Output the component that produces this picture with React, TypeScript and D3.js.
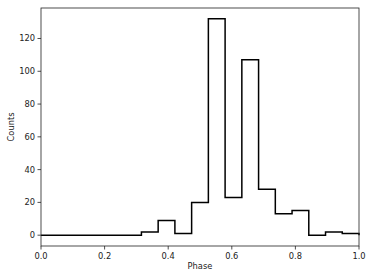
import React from "react";
import * as d3 from "d3";

const binCount = 19;
const counts = [0, 0, 0, 0, 0, 0, 2, 9, 1, 20, 132, 23, 107, 28, 13, 15, 0, 2, 1];
const xTicks = [0, 0.2, 0.4, 0.6, 0.8, 1.0];
const yTicks = [0, 20, 40, 60, 80, 100, 120];

const W = 374, H = 280;
const M = { left: 41, right: 359, top: 8, bottom: 246 };

export default function App() {
  const x = d3.scaleLinear().domain([0, 1]).range([M.left, M.right]);
  const y = d3.scaleLinear().domain([-6.6, 138.6]).range([M.bottom, M.top]);
  const edges = d3.range(binCount + 1).map((i) => i / binCount);
  const pts: [number, number][] = [];
  pts.push([x(0), y(0)]);
  counts.forEach((c, i) => {
    pts.push([x(edges[i]), y(c)]);
    pts.push([x(edges[i + 1]), y(c)]);
  });
  pts.push([x(1), y(0)]);
  const line = d3.line();
  const font = "DejaVu Sans, sans-serif";
  return (
    <svg width={W} height={H} style={{ position: "absolute", left: 0, top: 0 }}>
      <rect width={W} height={H} fill="white" />
      <path d={line(pts) || ""} fill="none" stroke="black" strokeWidth={1.5} strokeLinejoin="miter" />
      <rect x={M.left} y={M.top} width={M.right - M.left} height={M.bottom - M.top} fill="none" stroke="#222" strokeWidth={0.8} />
      {xTicks.map((t) => (
        <g key={"x" + t}>
          <line x1={x(t)} x2={x(t)} y1={M.bottom} y2={M.bottom + 3.5} stroke="#222" strokeWidth={0.8} />
          <text x={x(t)} y={M.bottom + 13} textAnchor="middle" fontSize={8.3} fontFamily={font} fill="#222">{t.toFixed(1)}</text>
        </g>
      ))}
      {yTicks.map((t) => (
        <g key={"y" + t}>
          <line x1={M.left - 3.5} x2={M.left} y1={y(t)} y2={y(t)} stroke="#222" strokeWidth={0.8} />
          <text x={M.left - 6} y={y(t) + 3} textAnchor="end" fontSize={8.3} fontFamily={font} fill="#222">{t}</text>
        </g>
      ))}
      <text x={(M.left + M.right) / 2} y={269} textAnchor="middle" fontSize={8.3} fontFamily={font} fill="#222">Phase</text>
      <text transform={`translate(14,${(M.top + M.bottom) / 2}) rotate(-90)`} textAnchor="middle" fontSize={8.3} fontFamily={font} fill="#222">Counts</text>
    </svg>
  );
}
